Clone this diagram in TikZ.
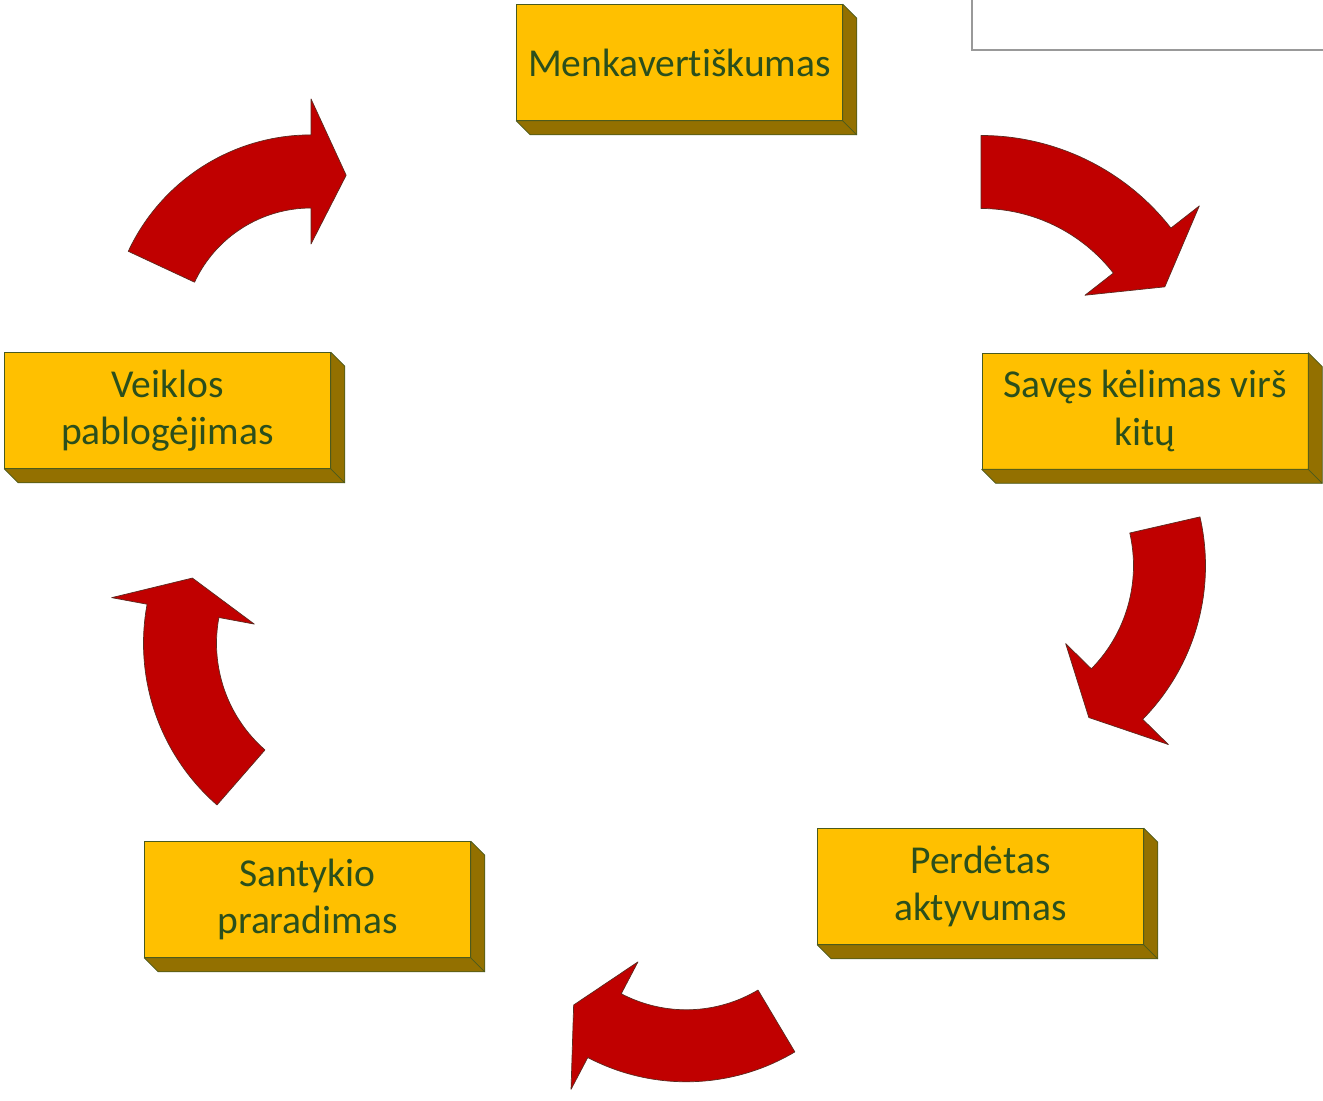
\documentclass[tikz,border=0pt]{standalone}
\usepackage{fontspec}
\setmainfont{Carlito}[Ligatures=CommonOff]
\usepackage{tikz}
\usetikzlibrary{calc, positioning}

\definecolor{boxfront}{HTML}{FFC000}
\definecolor{boxside}{HTML}{937000}
\definecolor{boxedge}{HTML}{4A5A1E}
\definecolor{boxtext}{HTML}{2B4F1C}
\definecolor{arrowred}{HTML}{C00000}
\definecolor{arrowedge}{HTML}{5C2A20}

\tikzset{
  stage/.style={draw=boxedge, fill=boxfront, text=boxtext, minimum width=6.52cm,
    minimum height=2.32cm, align=center, inner sep=0pt,
    font=\fontsize{22.5}{27}\selectfont},
  stageside/.style={draw=boxedge, fill=boxside, line join=round},
  redbend/.style={draw=arrowedge, fill=arrowred, line join=round}
}

% 3D kraštas dėžutei
\newcommand{\extrude}[1]{%
  \draw[stageside] (#1.north east) -- ++(14,-14) -- ($(#1.south east)+(14,-14)$)
    -- ($(#1.south west)+(14,-14)$) -- (#1.south west) -- (#1.south east) -- cycle;
  \draw[boxedge] (#1.south east) -- ++(14,-14);
}
% lenkta rodyklė: centras, r_in, r_out, uodega, galvos pradžia, smaigalys
\newcommand{\cyclearrow}[6]{%
  \filldraw[redbend] ($(#1)+(#4:#3)$) arc[start angle=#4, end angle=#5, radius=#3]
    -- ($(#1)+(#5:{#3+36})$) -- ($(#1)+(#6:{(#2+#3)/2})$)
    -- ($(#1)+(#5:{#2-36})$) -- ($(#1)+(#5:#2)$)
    arc[start angle=#5, end angle=#4, radius=#2] -- cycle;
}

\begin{document}
\begin{tikzpicture}[x=0.02cm, y=0.02cm]
    \useasboundingbox (0,0) rectangle (1323,1100);

    % rėmelis viršuje dešinėje
    \draw[gray!80, line width=0.6pt] (972,1100) -- (972,1050) -- (1323,1050);

    % Dėžutės
    \node[stage] (menk) at (679.5,1037.5) {Menkavertiškumas};
    \node[stage] (saves) at (1145,689) {Savęs kėlimas virš\\kitų};
    \node[stage] (perd) at (980.5,213.5) {Perdėtas\\aktyvumas};
    \node[stage] (sant) at (307.5,200.5) {Santykio\\praradimas};
    \node[stage] (veik) at (167.5,689.5) {Veiklos\\pablogėjimas};
    \foreach \b in {menk,saves,perd,sant,veik} {
        \extrude{\b}
    }

    % Rodyklės
    \coordinate (c1) at (981,723.5);
    \coordinate (c2) at (986.5,534.2);
    \coordinate (c3) at (686.3,230.2);
    \coordinate (c4) at (358,456.7);
    \coordinate (c5) at (311,763.5);
    \cyclearrow{c1}{168}{241}{90}{38}{26}
    \cyclearrow{c2}{147}{219}{12.9}{-44.5}{-56}
    \cyclearrow{c3}{140}{212}{-59.2}{-117.7}{-129.8}
    \cyclearrow{c4}{141.5}{214.5}{-131.1}{-190.5}{-201.5}
    \cyclearrow{c5}{128.5}{201.6}{155}{90}{77.7}

\end{tikzpicture}
\end{document}
